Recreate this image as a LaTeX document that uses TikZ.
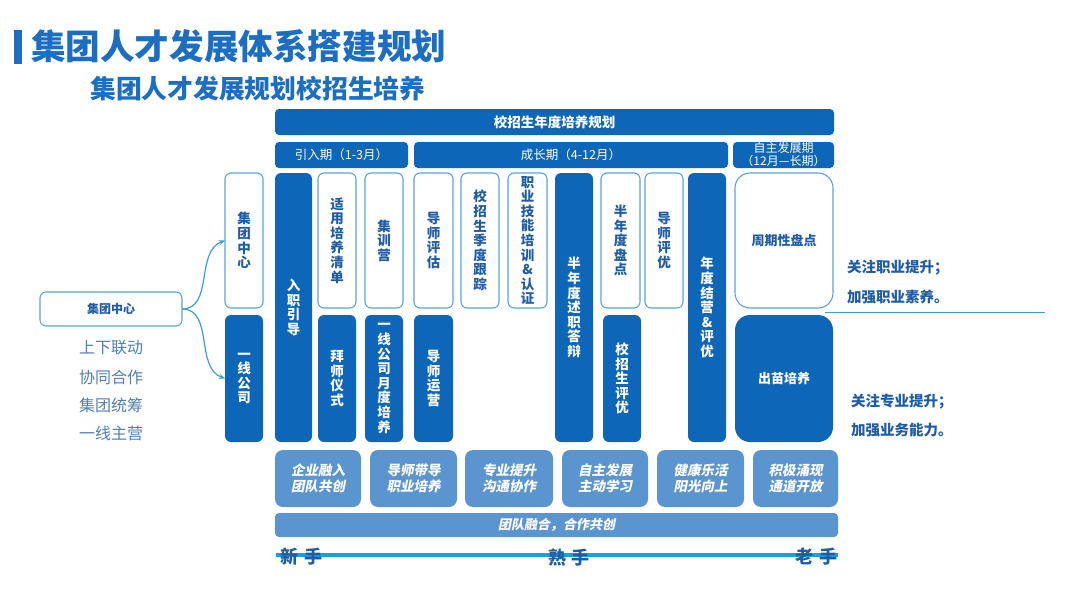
\documentclass[tikz,border=0pt]{standalone}
\usepackage{fontspec}
\setmainfont{Noto Sans CJK SC}
\newfontfamily\cjkit{Noto Sans CJK SC}[FakeSlant=0.2]
\usetikzlibrary{arrows.meta}
\newcommand\tightls{\lineskiplimit -100pt\lineskip 0pt\relax}
\definecolor{dk}{HTML}{0D66B8}
\definecolor{ttl}{HTML}{1B6EC2}
\definecolor{olb}{HTML}{5AA5D6}
\definecolor{otx}{HTML}{1E5CA6}
\definecolor{mid}{HTML}{5B95D0}
\definecolor{cyanl}{HTML}{1AA0E0}
\definecolor{gtx}{HTML}{4F7FB5}
\definecolor{arr}{HTML}{3AA0D0}
\tikzset{
 base/.style={inner sep=0pt, outer sep=0pt, anchor=north west, align=center},
 filled/.style={base, fill=dk, rounded corners=6pt, text=white, font=\bfseries\fontsize{13.5}{14.6}\selectfont\tightls},
 outl/.style={base, draw=olb, line width=1.1pt, fill=white, rounded corners=6pt, text=otx, font=\bfseries\fontsize{13.5}{14.6}\selectfont\tightls},
 hdr/.style={base, fill=dk, rounded corners=4pt, text=white},
 botbox/.style={base, fill=mid, rounded corners=8pt, text=white, font=\cjkit\bfseries\fontsize{13.5}{16}\selectfont\tightls},
 side/.style={text=otx, font=\bfseries\fontsize{14.5}{16}\selectfont, anchor=west, inner sep=0pt},
 lst/.style={text=gtx, font=\fontsize{16}{18}\selectfont, inner sep=0pt},
 stage/.style={text=otx, font=\bfseries\fontsize{18}{20}\selectfont, inner sep=0pt},
 conn/.style={draw=arr, line width=1.2pt, -{Stealth[length=6pt,width=5pt]}},
}
\newcommand\bx[7]{\node[#1, minimum width=#5pt, minimum height=#6pt] (#2) at (#3,#4) {#7};}
\begin{document}
\begin{tikzpicture}[x=1pt,y=-1pt]
\useasboundingbox (0,0) rectangle (1080,608);
% titles
\fill[ttl] (14,30) rectangle (22,64);
\node[anchor=west, text=ttl, font=\bfseries\fontsize{34.6}{36}\selectfont, inner sep=0pt] (title) at (31,46) {集团人才发展体系搭建规划};
\node[anchor=west, text=ttl, font=\bfseries\fontsize{25.8}{28}\selectfont, inner sep=0pt] (sub) at (90,89) {集团人才发展规划校招生培养};
% headers
\bx{hdr, font=\bfseries\fontsize{13.5}{15}\selectfont}{plan}{275}{109}{559}{26}{校招生年度培养规划}
\bx{hdr, font=\fontsize{12.5}{14}\selectfont}{p1}{275}{142}{133}{26}{引入期（1-3月）}
\bx{hdr, font=\fontsize{12.5}{14}\selectfont}{p2}{414}{142}{314}{26}{成长期（4-12月）}
\bx{hdr, font=\fontsize{12}{13}\selectfont\tightls}{p3}{733}{142}{101}{26}{自主发展期\\（12月—长期）}
% columns
\bx{outl}{jt}{225}{173}{38}{135}{集\\团\\中\\心}
\bx{filled}{yx}{225}{315}{38}{127}{一\\线\\公\\司}
\bx{filled}{rz}{275}{173}{37}{269}{入\\职\\引\\导}
\bx{outl}{sy}{318}{173}{38}{135}{适\\用\\培\\养\\清\\单}
\bx{filled}{bs}{318}{315}{38}{127}{拜\\师\\仪\\式}
\bx{outl}{jx}{365}{173}{38}{135}{集\\训\\营}
\bx{filled}{yd}{365}{315}{38}{127}{一\\线\\公\\司\\月\\度\\培\\养}
\bx{outl}{dp}{414}{173}{39}{135}{导\\师\\评\\估}
\bx{filled}{dy}{414}{315}{39}{127}{导\\师\\运\\营}
\bx{outl}{jd}{461}{173}{38}{135}{校\\招\\生\\季\\度\\跟\\踪}
\bx{outl}{zy}{508}{173}{39}{135}{职\\业\\技\\能\\培\\训\\\&\\认\\证}
\bx{filled}{bn}{555}{173}{38}{269}{半\\年\\度\\述\\职\\答\\辩}
\bx{outl}{bp}{601}{173}{39}{135}{半\\年\\度\\盘\\点}
\bx{filled}{xp}{603}{315}{38}{127}{校\\招\\生\\评\\优}
\bx{outl}{dpy}{645}{173}{38}{135}{导\\师\\评\\优}
\bx{filled}{nd}{688}{173}{38}{269}{年\\度\\结\\营\\\&\\评\\优}
\bx{outl, rounded corners=15pt, font=\bfseries\fontsize{13}{15}\selectfont}{zq}{735}{173}{98}{135}{周期性盘点}
\bx{filled, rounded corners=15pt, font=\bfseries\fontsize{13}{15}\selectfont}{cm}{735}{315}{98}{127}{出苗培养}
% right side
\draw[draw=arr, line width=1.3pt] (zq.south east) ++(-8,4.5) coordinate (ls) -- (1045,312.5) coordinate (le);
\node[side] (r1) at (847,268) {关注职业提升；};
\node[side] (r2) at (847,297) {加强职业素养。};
\node[side] (r3) at (851,402) {关注专业提升；};
\node[side] (r4) at (851,430) {加强业务能力。};
% left
\bx{base, draw=olb, line width=1.1pt, rounded corners=6pt, text=otx, font=\bfseries\fontsize{12}{14}\selectfont}{lc}{40}{292}{142}{34}{集团中心}
\draw[conn] (lc.east) to[out=0, in=200] (jt.west);
\draw[conn] (lc.east) to[out=0, in=160] (yx.west);
\node[lst] (l1) at (111,348) {上下联动};
\node[lst] (l2) at (111,377) {协同合作};
\node[lst] (l3) at (111,405) {集团统筹};
\node[lst] (l4) at (111,433) {一线主营};
% bottom
\bx{botbox}{b1}{275}{450}{86}{57}{企业融入\\团队共创}
\bx{botbox}{b2}{370}{450}{87}{57}{导师带导\\职业培养}
\bx{botbox}{b3}{465}{450}{88}{57}{专业提升\\沟通协作}
\bx{botbox}{b4}{562}{450}{86}{57}{自主发展\\主动学习}
\bx{botbox}{b5}{657}{450}{87}{57}{健康乐活\\阳光向上}
\bx{botbox}{b6}{753}{450}{85}{57}{积极涌现\\通道开放}
\bx{botbox, rounded corners=4pt, font=\cjkit\bfseries\fontsize{13}{15}\selectfont}{bar}{275}{513}{563}{24}{团队融合，合作共创}
\coordinate (s0) at (276,555);
\coordinate (s1) at (838,555);
\draw[cyanl, line width=4.5pt] (s0) -- (s1);
\node[stage, anchor=west] (n1) at (280,557) {新\,\,手};
\node[stage] (n2) at (569,558) {熟\,\,手};
\node[stage, anchor=east] (n3) at (838,557) {老\,\,手};
\end{tikzpicture}
\end{document}
